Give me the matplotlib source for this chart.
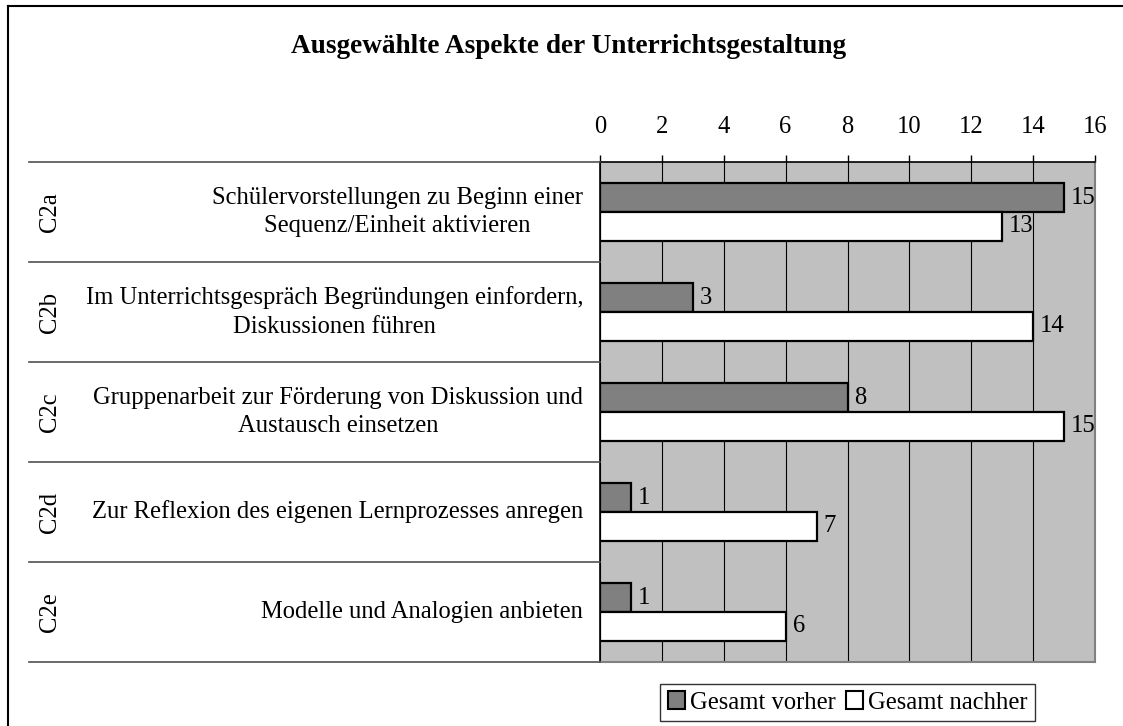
import matplotlib.pyplot as plt
from matplotlib.lines import Line2D
from matplotlib.patches import Patch
import matplotlib.transforms as mtransforms
import numpy as np

codes = ['C2a', 'C2b', 'C2c', 'C2d', 'C2e']
aspekte = [
    'Schülervorstellungen zu Beginn einer\nSequenz/Einheit aktivieren',
    'Im Unterrichtsgespräch Begründungen einfordern,\nDiskussionen führen',
    'Gruppenarbeit zur Förderung von Diskussion und\nAustausch einsetzen',
    'Zur Reflexion des eigenen Lernprozesses anregen',
    'Modelle und Analogien anbieten',
]
vorher = [15, 3, 8, 1, 1]
nachher = [13, 14, 15, 7, 6]
x_ticks = list(range(0, 17, 2))

plt.rcParams['font.family'] = ['Liberation Serif', 'DejaVu Serif']
fs = 17.7

W, H = 1123, 726
fig = plt.figure(figsize=(W / 100, H / 100), dpi=100)
ax = fig.add_axes([600 / W, (H - 662) / H, 495 / W, 500 / H])
ax.set_facecolor('#c0c0c0')

y = np.arange(len(codes))
h = 0.29
b1 = ax.barh(y - h / 2, vorher, height=h, color='#808080', edgecolor='black',
             linewidth=1.6, zorder=3, label='Gesamt vorher')
b2 = ax.barh(y + h / 2, nachher, height=h, color='white', edgecolor='black',
             linewidth=1.6, zorder=3, label='Gesamt nachher')
ax.bar_label(b1, padding=5, fontsize=fs)
ax.bar_label(b2, padding=5, fontsize=fs)

ax.set_xlim(0, 16)
ax.set_ylim(len(codes) - 0.5, -0.5)
ax.set_xticks(x_ticks)
ax.xaxis.tick_top()
ax.tick_params(axis='x', direction='out', length=5, width=1, pad=12, labelsize=fs)
ax.set_yticks([])
ax.grid(axis='x', color='black', linewidth=0.8, zorder=1)
ax.set_axisbelow(True)
for s in ['top', 'left']:
    ax.spines[s].set_color('black')
    ax.spines[s].set_linewidth(1.2)
for s in ['right', 'bottom']:
    ax.spines[s].set_color('#808080')
    ax.spines[s].set_linewidth(1.5)

# linke Tabelle mit Kategorien
trans = mtransforms.blended_transform_factory(fig.transFigure, ax.transData)
for b in np.arange(len(codes) + 1) - 0.5:
    fig.add_artist(Line2D([29 / W, 600 / W], [b, b], transform=trans,
                          color='#505050', linewidth=1.2))
for i in y:
    fig.text(583 / W, i, aspekte[i], transform=trans, ha='right', va='center',
             multialignment='center', fontsize=fs, linespacing=1.38)
    fig.text(50 / W, i, codes[i], transform=trans, ha='center', va='center',
             rotation=90, fontsize=fs)

fig.text(569 / W, (H - 53) / H, 'Ausgewählte Aspekte der Unterrichtsgestaltung',
         ha='center', va='baseline', fontsize=19.6, fontweight='bold')

# Rahmen
fig.add_artist(Line2D([8 / W, 8 / W], [0, (H - 6) / H], color='black', linewidth=1.5))
fig.add_artist(Line2D([8 / W, 1], [(H - 6) / H, (H - 6) / H], color='black', linewidth=1.5))

handles = [Patch(facecolor='#808080', edgecolor='black', linewidth=1.5),
           Patch(facecolor='white', edgecolor='black', linewidth=1.5)]
leg = ax.legend(handles, ['Gesamt vorher', 'Gesamt nachher'], loc='upper center',
                bbox_to_anchor=(0.5, -0.044), ncol=2, fontsize=fs, frameon=True,
                fancybox=False, edgecolor='black', handlelength=0.7, handleheight=0.7,
                handletextpad=0.2, columnspacing=0.4, borderpad=0.3, borderaxespad=0)
leg.get_frame().set_linewidth(1)

fig.savefig('out.png', dpi=100)
